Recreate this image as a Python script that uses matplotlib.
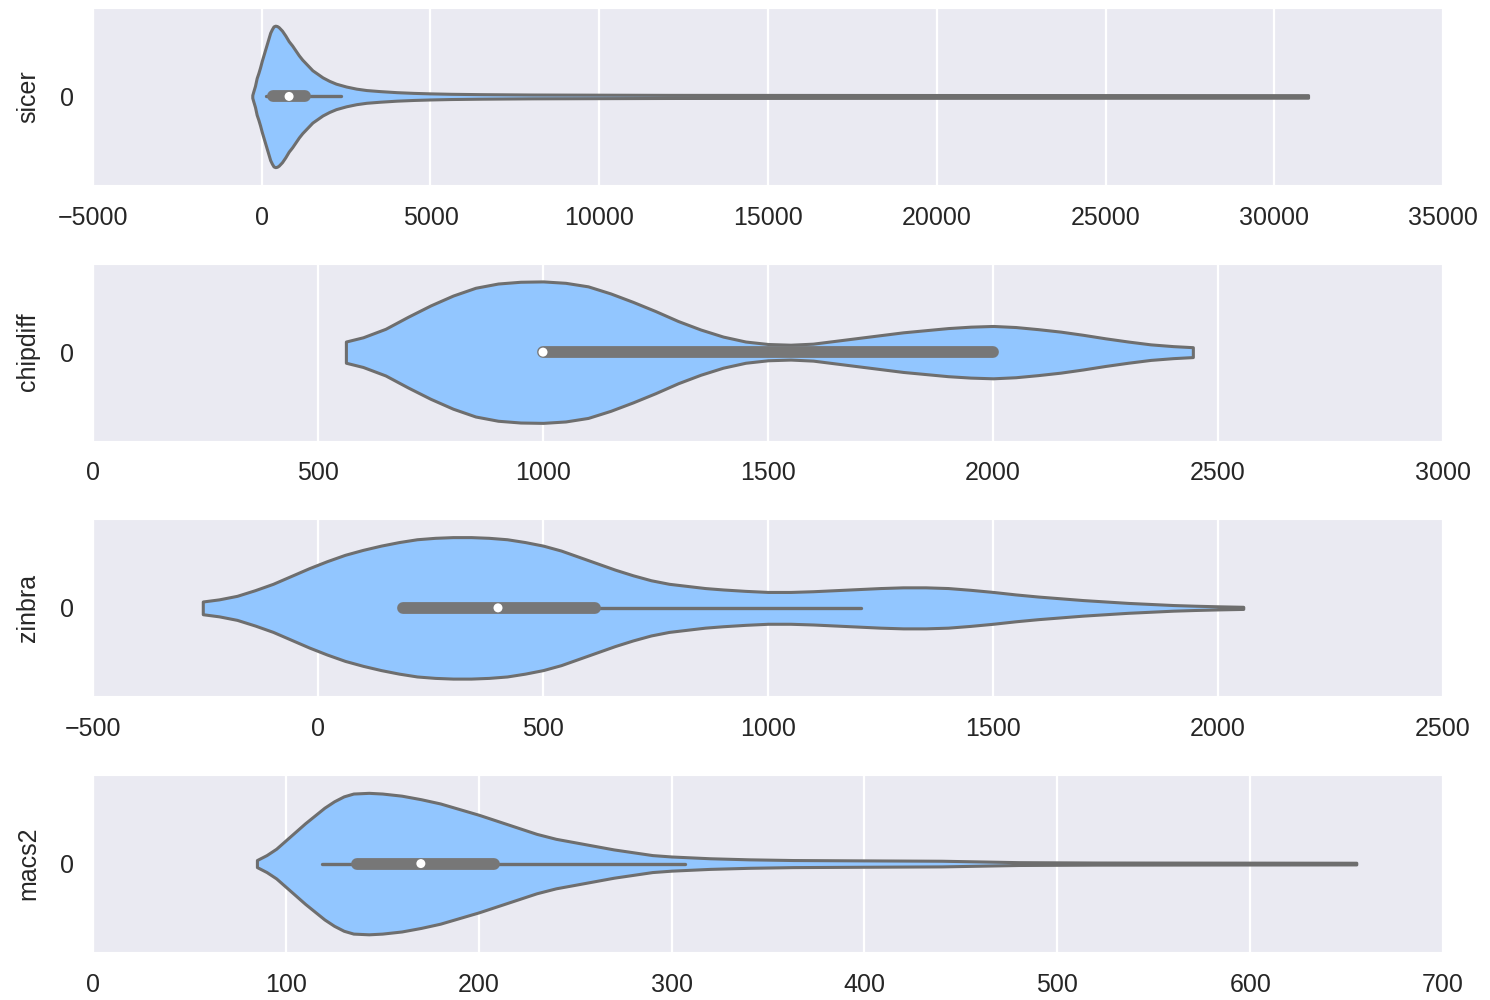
import matplotlib
matplotlib.use("Agg")
import matplotlib.pyplot as plt
import numpy as np
import seaborn as sns

sns.set_style("darkgrid", {"lines.solid_capstyle": "round"})
plt.rcParams['font.family'] = ['Liberation Sans', 'DejaVu Sans']

# violin outlines: value positions and relative half-width (1 = widest point)
sicer_x = [-280, -250, -200, -150, -100, -50, 0, 50, 100, 150, 200, 250, 300, 350, 400, 450, 500,
           600, 700, 800, 900, 1000, 1100, 1200, 1300, 1400, 1500, 1650, 1800, 2000, 2200, 2500,
           2800, 3100, 3500, 4000, 4500, 5000, 5600, 6500, 8000, 12000, 20000, 31000]
sicer_w = [0.02, 0.07, 0.15, 0.26, 0.33, 0.41, 0.50, 0.58, 0.66, 0.74, 0.82, 0.90, 0.95, 0.99, 1.0, 0.995, 0.98,
           0.93, 0.86, 0.78, 0.72, 0.65, 0.58, 0.52, 0.47, 0.42, 0.37, 0.32, 0.27, 0.22, 0.18, 0.14,
           0.11, 0.09, 0.075, 0.06, 0.05, 0.043, 0.037, 0.032, 0.027, 0.022, 0.02, 0.018]

chipdiff_x = [562, 600, 650, 700, 750, 800, 850, 900, 950, 1000, 1050, 1100, 1150, 1200, 1250, 1300,
              1350, 1400, 1450, 1500, 1550, 1600, 1650, 1700, 1750, 1800, 1850, 1900, 1950, 2000,
              2050, 2100, 2150, 2200, 2250, 2300, 2350, 2400, 2444]
chipdiff_w = [0.15, 0.21, 0.33, 0.50, 0.66, 0.80, 0.91, 0.97, 0.995, 1.0, 0.98, 0.93, 0.83, 0.71, 0.58, 0.44,
              0.32, 0.22, 0.15, 0.115, 0.105, 0.12, 0.16, 0.20, 0.24, 0.28, 0.31, 0.34, 0.36, 0.37,
              0.355, 0.325, 0.29, 0.245, 0.195, 0.15, 0.11, 0.085, 0.07]

zinbra_x = [-256, -220, -180, -140, -100, -60, -20, 20, 60, 100, 140, 180, 220, 260, 300, 340, 380,
            420, 460, 500, 540, 580, 620, 660, 700, 740, 780, 820, 860, 900, 950, 1000, 1050, 1100,
            1150, 1200, 1250, 1300, 1350, 1400, 1450, 1500, 1550, 1600, 1650, 1700, 1750, 1800,
            1850, 1900, 1950, 2000, 2056]
zinbra_w = [0.09, 0.12, 0.17, 0.25, 0.34, 0.45, 0.56, 0.66, 0.75, 0.82, 0.88, 0.93, 0.97, 0.99, 1.0, 1.0, 0.99,
            0.97, 0.93, 0.88, 0.81, 0.72, 0.63, 0.54, 0.46, 0.39, 0.34, 0.31, 0.28, 0.26, 0.24, 0.225, 0.225, 0.235,
            0.25, 0.265, 0.28, 0.29, 0.29, 0.28, 0.255, 0.225, 0.19, 0.16, 0.135, 0.11, 0.09, 0.07,
            0.055, 0.04, 0.03, 0.022, 0.015]

macs2_x = [85, 90, 95, 100, 105, 110, 115, 120, 125, 130, 135, 143, 150, 160, 170, 180, 190, 200, 210,
           220, 230, 240, 250, 260, 270, 280, 290, 300, 320, 340, 363, 400, 440, 460, 480, 520, 655]
macs2_w = [0.05, 0.12, 0.21, 0.33, 0.45, 0.57, 0.68, 0.79, 0.88, 0.95, 0.99, 1.0, 0.99, 0.96, 0.91, 0.85, 0.77, 0.69, 0.60,
           0.51, 0.42, 0.35, 0.30, 0.25, 0.20, 0.16, 0.12, 0.10, 0.075, 0.06, 0.05, 0.045, 0.04, 0.03, 0.02, 0.015, 0.012]

# inner box: whisker low, q1, median, q3, whisker high
sicer_box = [140, 330, 810, 1280, 2360]
chipdiff_box = [1000, 1000, 1000, 2000, 2000]
zinbra_box = [190, 190, 400, 615, 1206]
macs2_box = [119, 137, 170, 208, 307]

names = ["sicer", "chipdiff", "zinbra", "macs2"]
xlims = [(-5000, 35000), (0, 3000), (-500, 2500), (0, 700)]
xsteps = [5000, 500, 500, 100]

fill = "#92c6ff"
gray = "#6e6e6e"

fig, axes = plt.subplots(4, 1, figsize=(14.9, 10), dpi=100)
fig.subplots_adjust(left=0.0624, right=0.9685, top=0.992, bottom=0.048, hspace=0.446)

data = [(sicer_x, sicer_w, sicer_box), (chipdiff_x, chipdiff_w, chipdiff_box),
        (zinbra_x, zinbra_w, zinbra_box), (macs2_x, macs2_w, macs2_box)]

for ax, name, (xs, ws, bx), lim, step in zip(axes, names, data, xlims, xsteps):
    xs = np.array(xs, dtype=float)
    hw = np.array(ws) * 0.4
    ax.fill_between(xs, -hw, hw, facecolor=fill, edgecolor=gray, linewidth=2.2,
                    joinstyle="round", zorder=2)
    # whisker, box, median
    ax.plot([bx[0], bx[4]], [0, 0], color=gray, linewidth=2.4, zorder=3)
    ax.plot([bx[1], bx[3]], [0, 0], color="#777777", linewidth=8.5, zorder=3)
    ax.scatter([bx[2]], [0], s=42, color="white", edgecolor="none", zorder=4)

    ax.set_xlim(lim)
    ax.set_xticks(np.arange(lim[0], lim[1] + 1, step))
    ax.set_ylim(0.5, -0.5)
    ax.set_yticks([0])
    ax.set_yticklabels(["0"])
    ax.yaxis.grid(False)
    ax.xaxis.grid(True, color="white", linewidth=1.6)
    ax.tick_params(axis="both", labelsize=18, colors="#262626", length=0)
    ax.tick_params(axis="x", pad=15)
    ax.tick_params(axis="y", pad=14)
    ax.set_ylabel(name, fontsize=18, color="#262626", labelpad=14)

fig.savefig("out.png", dpi=100)
